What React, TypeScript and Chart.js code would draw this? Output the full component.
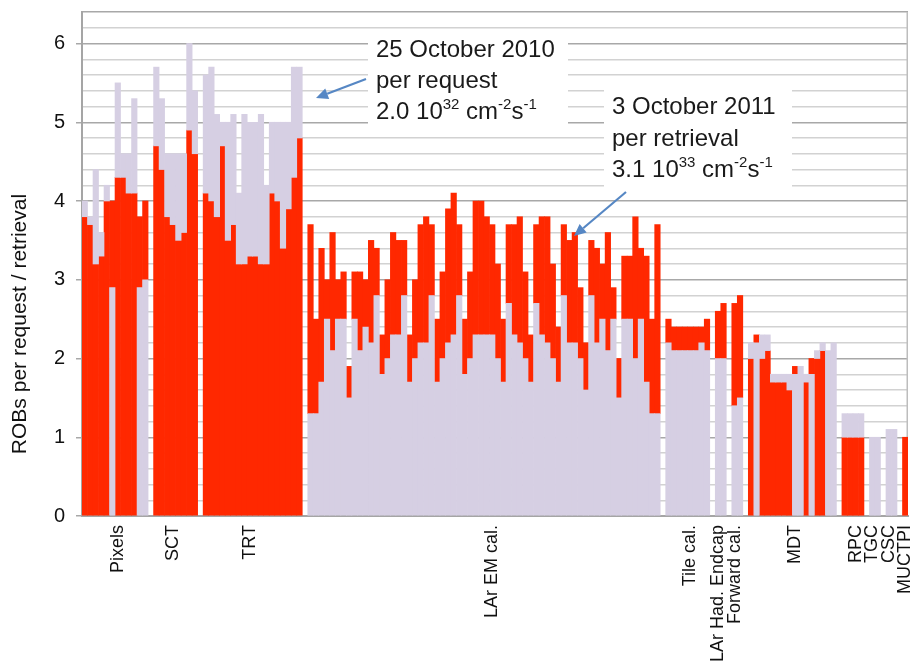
import React, { useEffect, useRef } from 'react';
import { Chart, registerables } from 'chart.js';

Chart.register(...registerables);

// 2010 (25 October, per request) – lavender series
const request2010 = [
  4.0, 3.8, 4.4, 3.6, 4.2, 2.9, 5.5, 4.6, 4.6, 5.3,
  2.9, 3.0, 0, 5.7, 5.3, 4.6, 4.6, 4.6, 4.6, 6.0,
  5.4, 0, 5.6, 5.7, 5.1, 5.0, 5.0, 5.1, 4.1, 5.1,
  5.0, 5.0, 5.1, 4.2, 5.0, 5.0, 5.0, 5.0, 5.7, 5.7,
  0, 1.3, 1.3, 1.7, 2.5, 2.1, 2.5, 2.5, 1.5, 2.5,
  2.1, 2.4, 2.2, 2.8, 1.8, 2.0, 2.3, 2.3, 2.8, 1.7,
  2.0, 2.2, 2.2, 2.8, 1.7, 2.0, 2.2, 2.3, 2.8, 1.8,
  2.0, 2.3, 2.3, 2.3, 2.3, 2.0, 1.7, 2.7, 2.3, 2.2,
  2.0, 1.7, 2.7, 2.3, 2.2, 2.0, 1.7, 2.8, 2.2, 2.2,
  2.0, 1.6, 2.8, 2.2, 2.5, 2.1, 2.5, 1.5, 2.5, 2.5,
  2.0, 2.5, 1.7, 1.3, 1.3, 0, 2.2, 2.1, 2.1, 2.1,
  2.1, 2.1, 2.2, 2.1, 0, 2.0, 2.0, 0, 1.4, 1.5,
  0, 2.2, 2.2, 2.3, 2.3, 1.8, 1.8, 1.8, 1.8, 1.8,
  1.9, 1.8, 1.8, 2.1, 2.2, 2.1, 2.2, 0, 1.3, 1.3,
  1.3, 1.3, 0, 1.0, 1.0, 0, 1.1, 1.1, 0, 0,
];

// 2011 (3 October, per retrieval) – red series
const retrieval2011 = [
  3.8, 3.7, 3.2, 3.3, 4.0, 4.0, 4.3, 4.3, 4.1, 4.1,
  3.8, 4.0, 0, 4.7, 4.4, 3.8, 3.7, 3.5, 3.6, 4.9,
  4.6, 0, 4.1, 4.0, 3.8, 4.7, 3.5, 3.7, 3.2, 3.2,
  3.3, 3.3, 3.2, 3.2, 4.1, 4.0, 3.4, 3.9, 4.3, 4.8,
  0, 3.7, 2.5, 3.4, 3.0, 3.6, 3.0, 3.1, 1.9, 3.1,
  3.1, 3.0, 3.5, 3.4, 2.3, 3.0, 3.6, 3.5, 3.5, 2.3,
  3.0, 3.7, 3.8, 3.7, 2.5, 3.1, 3.9, 4.1, 3.7, 2.5,
  3.1, 4.0, 4.0, 3.8, 3.7, 3.2, 2.5, 3.7, 3.7, 3.8,
  3.1, 2.3, 3.7, 3.8, 3.8, 3.2, 2.4, 3.7, 3.5, 3.6,
  2.9, 2.2, 3.5, 3.4, 3.2, 3.6, 2.9, 2.0, 3.3, 3.3,
  3.8, 3.4, 3.3, 2.5, 3.7, 0, 2.5, 2.4, 2.4, 2.4,
  2.4, 2.4, 2.4, 2.5, 0, 2.6, 2.7, 0, 2.7, 2.8,
  0, 2.0, 2.3, 2.0, 2.1, 1.7, 1.7, 1.7, 1.6, 1.9,
  0, 1.7, 2.0, 2.0, 2.1, 0, 0, 0, 1.0, 1.0,
  1.0, 1.0, 0, 0, 0, 0, 0, 0, 0, 1.0,
];

// Detector group names and the category where each name is written
const groupNames = [
  'Pixels', 'SCT', 'TRT', 'LAr EM cal.', 'Tile cal.', 'LAr Had. Endcap',
  'Forward cal.', 'MDT', 'RPC', 'TGC', 'CSC', 'MUCTPI',
];
const groupLabelAt = [6, 16, 30, 74, 110, 115, 118, 129, 140, 143, 146, 149];

const yAxisTitle = 'ROBs per request / retrieval';
const yMax = 6.4;
const yStep = 0.2;

// Annotation texts: [text, isSuperscript]
const note2010Lines = ['25 October 2010', 'per request'];
const note2010Lumi: [string, boolean][] = [['2.0 10', false], ['32', true], [' cm', false], ['-2', true], ['s', false], ['-1', true]];
const note2011Lines = ['3 October 2011', 'per retrieval'];
const note2011Lumi: [string, boolean][] = [['3.1 10', false], ['33', true], [' cm', false], ['-2', true], ['s', false], ['-1', true]];

const RED = 'rgb(255, 40, 0)';
const LAVENDER = 'rgb(214, 207, 227)';
const FONT = '"Liberation Sans", Arial, Helvetica, sans-serif';
const ARROW = 'rgb(86, 135, 196)';

const isInt = (v: number) => Math.abs(v - Math.round(v)) < 1e-6;

function drawArrow(ctx: CanvasRenderingContext2D, x1: number, y1: number, x2: number, y2: number) {
  const ang = Math.atan2(y2 - y1, x2 - x1);
  const len = 12;
  const hw = 5.5;
  const bx = x2 - len * Math.cos(ang);
  const by = y2 - len * Math.sin(ang);
  ctx.save();
  ctx.strokeStyle = ARROW;
  ctx.fillStyle = ARROW;
  ctx.lineWidth = 2.2;
  ctx.beginPath();
  ctx.moveTo(x1, y1);
  ctx.lineTo(bx, by);
  ctx.stroke();
  ctx.beginPath();
  ctx.moveTo(x2, y2);
  ctx.lineTo(bx + hw * Math.sin(ang), by - hw * Math.cos(ang));
  ctx.lineTo(bx - hw * Math.sin(ang), by + hw * Math.cos(ang));
  ctx.closePath();
  ctx.fill();
  ctx.restore();
}

function drawRich(ctx: CanvasRenderingContext2D, x: number, y: number, parts: [string, boolean][]) {
  let cx = x;
  for (const [t, sup] of parts) {
    ctx.font = sup ? `15px ${FONT}` : `24px ${FONT}`;
    ctx.fillText(t, cx, sup ? y - 10 : y);
    cx += ctx.measureText(t).width;
  }
}

function drawNote(
  ctx: CanvasRenderingContext2D, box: [number, number, number, number],
  x: number, y0: number, gap: number, lines: string[], lumi: [string, boolean][],
) {
  ctx.save();
  ctx.fillStyle = '#ffffff';
  ctx.fillRect(box[0], box[1], box[2], box[3]);
  ctx.fillStyle = '#1a1a1a';
  ctx.textBaseline = 'alphabetic';
  ctx.textAlign = 'left';
  ctx.font = `24px ${FONT}`;
  lines.forEach((l, k) => ctx.fillText(l, x, y0 + k * gap));
  drawRich(ctx, x, y0 + lines.length * gap, lumi);
  ctx.restore();
}

const decorPlugin = {
  id: 'decor',
  beforeDatasetsDraw(chart: any) {
    const { ctx, chartArea: a } = chart;
    ctx.save();
    ctx.strokeStyle = '#bdbdbd';
    ctx.lineWidth = 1.5;
    ctx.beginPath();
    ctx.moveTo(a.right - 0.75, a.top);
    ctx.lineTo(a.right - 0.75, a.bottom);
    ctx.stroke();
    ctx.restore();
  },
  afterDraw(chart: any) {
    const { ctx } = chart;
    // y axis title
    ctx.save();
    ctx.translate(20, 324);
    ctx.rotate(-Math.PI / 2);
    ctx.font = `21px ${FONT}`;
    ctx.fillStyle = '#111';
    ctx.textAlign = 'center';
    ctx.textBaseline = 'middle';
    ctx.fillText(yAxisTitle, 0, 0);
    ctx.restore();

    drawNote(ctx, [368, 29, 200, 99], 376, 57, 31, note2010Lines, note2010Lumi);
    drawNote(ctx, [604, 89, 188, 100], 612, 114, 31.5, note2011Lines, note2011Lumi);
    drawArrow(ctx, 366, 79, 316, 98);
    drawArrow(ctx, 626, 192, 574, 236);
  },
};

export default function App() {
  const ref = useRef<HTMLCanvasElement>(null);
  useEffect(() => {
    const canvas = ref.current;
    if (!canvas) return;
    const n = request2010.length;
    const labels: string[] = new Array(n).fill('');
    groupNames.forEach((g, k) => { labels[groupLabelAt[k]] = g; });

    // smaller value in front: each series is drawn from the other series' value when that one is lower
    const lavBars = request2010.map((v, i) => {
      const r = retrieval2011[i];
      const seg = v < r ? [0, v] : [r, v];
      return seg[0] === seg[1] ? null : seg;
    });
    const redBars = retrieval2011.map((r, i) => {
      const v = request2010[i];
      const seg = r <= v ? [0, r] : [v, r];
      return seg[0] === seg[1] ? null : seg;
    });

    Chart.defaults.font.family = FONT;

    const chart = new Chart(canvas, {
      type: 'bar',
      data: {
        labels,
        datasets: [
          {
            label: '25 October 2010 per request',
            data: lavBars as any,
            backgroundColor: LAVENDER,
            borderWidth: 0,
            barPercentage: 1,
            categoryPercentage: 1,
            grouped: false,
          },
          {
            label: '3 October 2011 per retrieval',
            data: redBars as any,
            backgroundColor: RED,
            borderWidth: 0,
            barPercentage: 1,
            categoryPercentage: 1,
            grouped: false,
          },
        ],
      },
      options: {
        responsive: false,
        animation: false,
        devicePixelRatio: 1,
        layout: { padding: { top: 12, right: 5, left: 0, bottom: 0 } },
        plugins: { legend: { display: false }, tooltip: { enabled: false } },
        scales: {
          x: {
            stacked: true,
            offset: true,
            grid: { display: false, drawTicks: false },
            border: { display: true, color: '#a5a5a5', width: 2 },
            ticks: {
              autoSkip: false,
              minRotation: 90,
              maxRotation: 90,
              padding: 9,
              color: '#111',
              font: { size: 18, family: FONT },
            },
            afterFit: (s: any) => { s.height = 145; s.paddingLeft = 0; s.paddingRight = 0; },
          },
          y: {
            min: 0,
            max: yMax,
            stacked: false,
            ticks: {
              stepSize: yStep,
              autoSkip: false,
              padding: 11,
              color: '#111',
              font: { size: 20, family: FONT },
              callback: (v: any) => (isInt(Number(v)) ? String(Math.round(Number(v))) : ''),
            },
            grid: {
              color: (c: any) => (isInt(c.tick.value) || c.tick.value > yMax - 0.01 ? '#a8a8a8' : '#d2d2d2'),
              lineWidth: 1.5,
              tickLength: 6,
              tickColor: (c: any) => (isInt(c.tick.value) ? '#a8a8a8' : 'rgba(0,0,0,0)'),
            },
            border: { display: true, color: '#a5a5a5', width: 2 },
            afterFit: (s: any) => { s.width = 82; s.paddingTop = 0; s.paddingBottom = 0; },
          },
        },
      },
      plugins: [decorPlugin],
    });
    return () => chart.destroy();
  }, []);

  return (
    <canvas
      ref={ref}
      width={913}
      height={661}
      style={{ position: 'absolute', left: 0, top: 0, width: 913, height: 661 }}
    />
  );
}
